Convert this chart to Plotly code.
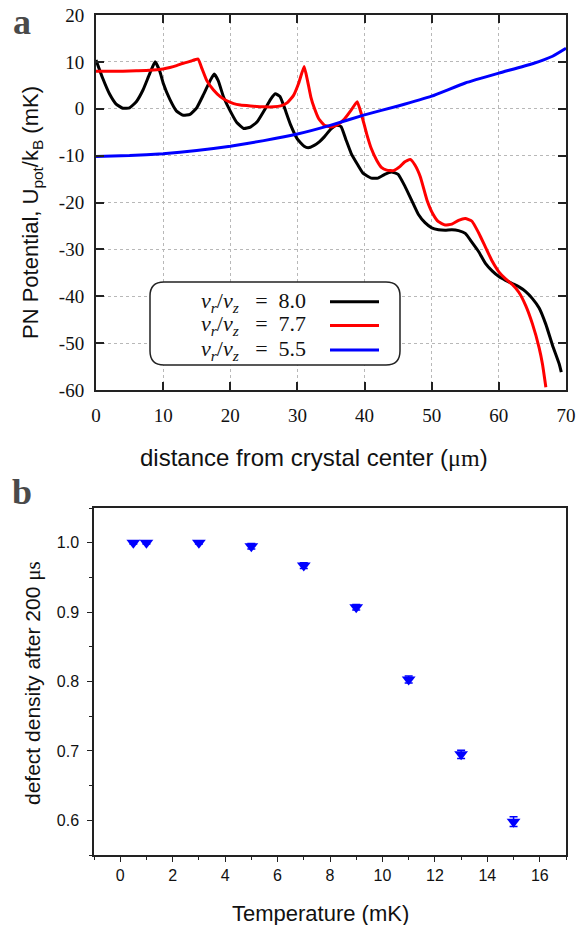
import plotly.graph_objects as go

W, H = 587, 925

# ---------------- Panel a data ----------------
x_80 = [0, 1, 2, 3, 4, 5, 6, 7, 8, 8.8, 9.5, 10, 11, 12, 13, 14, 15, 16, 17, 17.6, 18.2, 19, 20, 21, 22, 23, 24, 25, 26,
        26.7, 27.4, 28, 29, 30, 31, 31.6, 32.5, 33.3, 34, 35, 35.8, 36.5, 37.2, 38, 39, 39.8, 41, 42, 43, 44, 45, 46, 47,
        48, 49, 50, 51, 52, 53, 54, 55, 56, 57, 58, 59, 60, 61, 62, 63, 64, 65, 66, 67, 68, 69, 69.3]
y_80 = [10.4, 6.5, 3.2, 1.0, 0.1, 0.2, 1.5, 4.0, 7.5, 10.0, 8.0, 5.5, 2.0, -0.5, -1.4, -1.2, 0.2, 3.0, 6.0, 7.4, 6.0, 2.5,
        -0.5, -3.0, -4.2, -3.9, -2.8, -0.5, 2.0, 3.2, 2.6, 0.5, -3.5, -6.5, -8.0, -8.3, -7.8, -7.0, -6.0, -4.3, -3.5,
        -3.8, -6.5, -9.5, -12.0, -13.8, -14.8, -14.8, -14.0, -13.5, -14.0, -16.5, -19.5, -22.5, -24.3, -25.4, -25.8,
        -25.9, -25.8, -26.0, -26.6, -28.5, -30.5, -33.0, -34.6, -35.8, -36.6, -37.3, -38.0, -39.0, -40.5, -42.5, -46.0,
        -50.5, -54.5, -56.2]

x_77 = [0, 2, 4, 6, 8, 10, 11, 12, 13, 14, 15.2, 15.8, 16.5, 17.5, 18.5, 19.5, 20.5, 21.5, 23, 25, 26.5, 27.5, 28.5, 29.4,
        30.2, 31.0, 31.5, 32.0, 32.5, 33.2, 34, 35, 36, 37, 38, 38.9, 39.5, 40.3, 41, 41.8, 42.5, 43.3, 44.3, 45.3, 46,
        46.8, 47.5, 48.3, 49.3, 50.2, 51, 52, 53, 54, 55, 56, 57, 58, 59, 60, 61, 62, 63, 64, 65, 66, 66.5, 67]
y_77 = [8.0, 8.0, 8.0, 8.1, 8.2, 8.5, 8.8, 9.2, 9.7, 10.1, 10.6, 8.5, 6.0, 4.0, 2.6, 1.7, 1.1, 0.8, 0.6, 0.4, 0.4, 0.6,
        1.3, 2.8, 5.5, 9.0, 6.0, 2.5, 0.2, -2.2, -3.5, -3.9, -3.4, -2.2, -0.3, 1.5, -1.0, -5.3, -8.5, -11.0, -12.5,
        -13.1, -13.2, -12.3, -11.3, -10.8, -12.0, -14.5, -19.5, -22.5, -24.1, -24.8, -24.6, -23.8, -23.4, -24.0,
        -26.5, -29.5, -32.5, -34.8, -36.3, -37.5, -39.2, -42.0, -45.9, -51.0, -54.5, -59.4]

x_55 = [0, 5, 10, 15, 20, 25, 30, 35, 40, 45, 50, 55, 60, 65, 68, 70]
y_55 = [-10.2, -10.0, -9.6, -8.9, -8.0, -6.8, -5.4, -3.5, -1.3, 0.6, 2.7, 5.5, 7.6, 9.6, 11.2, 12.9]

series_a = [("8.0", x_80, y_80, "#000000"),
            ("7.7", x_77, y_77, "#ff0000"),
            ("5.5", x_55, y_55, "#0000ff")]

a_xticks = [0, 10, 20, 30, 40, 50, 60, 70]
a_yticks = [-60, -50, -40, -30, -20, -10, 0, 10, 20]
a_yticklabels = ["-60", "-50", "-40", "-30", "-20", "-10", "0", "10", "20"]

# ---------------- Panel b data ----------------
temp_mK = [0.5, 1, 3, 5, 7, 9, 11, 13, 15]
defect_density = [1.0, 1.0, 1.0, 0.995, 0.967, 0.907, 0.803, 0.695, 0.598]
defect_err = [0.002, 0.002, 0.002, 0.004, 0.004, 0.004, 0.005, 0.006, 0.007]

b_xticks = [0, 2, 4, 6, 8, 10, 12, 14, 16]
b_yticks = [0.6, 0.7, 0.8, 0.9, 1.0]
b_yticklabels = ["0.6", "0.7", "0.8", "0.9", "1.0"]

# ---------------- geometry (pixels -> paper) ----------------
def px(x):
    return x / W

def py(y):
    return 1 - y / H

A_L, A_R, A_T, A_B = 96, 566, 15, 390
B_L, B_R, B_T, B_B = 94, 566, 508, 855

fig = go.Figure()

for name, xs, ys, col in series_a:
    fig.add_trace(go.Scatter(x=xs, y=ys, mode="lines", name=name,
                             line=dict(color=col, width=3, shape="spline", smoothing=0.4),
                             xaxis="x", yaxis="y", showlegend=False))

fig.add_trace(go.Scatter(x=temp_mK, y=defect_density, mode="markers",
                         marker=dict(symbol="triangle-down", size=12, color="#0000ff"),
                         error_y=dict(type="data", array=defect_err, color="#0000ff",
                                      thickness=1.5, width=4),
                         xaxis="x2", yaxis="y2", showlegend=False))

serif = "Liberation Serif, Times New Roman, serif"
sans = "Liberation Sans, Arial, sans-serif"

fig.update_layout(
    width=W, height=H, margin=dict(l=0, r=0, t=0, b=0, autoexpand=False),
    paper_bgcolor="white", plot_bgcolor="white", showlegend=False,
    xaxis=dict(domain=[px(A_L), px(A_R)], anchor="y", range=[0, 70], automargin=False,
               tickvals=a_xticks, ticks="inside", ticklen=8, tickwidth=1.5,
               tickcolor="#222", showline=True, linecolor="#222", linewidth=2,
               mirror="ticks", showgrid=True, gridcolor="#b8b8b8", griddash="dot",
               gridwidth=1, zeroline=False, ticklabelstandoff=7,
               tickfont=dict(family=serif, size=19, color="#111")),
    yaxis=dict(domain=[py(A_B), py(A_T)], anchor="x", range=[-60, 20], automargin=False,
               tickvals=a_yticks, ticktext=a_yticklabels, ticks="inside", ticklen=8,
               tickwidth=1.5, tickcolor="#222", showline=True, linecolor="#222",
               linewidth=2, mirror="ticks", showgrid=True, gridcolor="#b8b8b8",
               griddash="dot", gridwidth=1, zeroline=False, ticklabelstandoff=6,
               tickfont=dict(family=serif, size=19, color="#111")),
    xaxis2=dict(domain=[px(B_L), px(B_R)], anchor="y2", range=[-1, 17], automargin=False,
                tickvals=b_xticks, ticks="outside", ticklen=5, tickwidth=1.2,
                tickcolor="#222", showline=True, linecolor="#222", linewidth=1.5,
                mirror=True, showgrid=False, zeroline=False,
                minor=dict(ticks="outside", dtick=1, tick0=0, ticklen=3, tickcolor="#222"),
                tickfont=dict(family=sans, size=16, color="#111")),
    yaxis2=dict(domain=[py(B_B), py(B_T)], anchor="x2", range=[0.55, 1.05], automargin=False,
                tickvals=b_yticks, ticktext=b_yticklabels, ticks="outside", ticklen=5,
                tickwidth=1.2, tickcolor="#222", showline=True, linecolor="#222",
                linewidth=1.5, mirror=True, showgrid=False, zeroline=False,
                ticklabelstandoff=5,
                minor=dict(ticks="outside", dtick=0.05, tick0=0.55, ticklen=3, tickcolor="#222"),
                tickfont=dict(family=sans, size=16, color="#111")),
)

annotations = [
    dict(text="<b>a</b>", x=px(22), y=py(22), font=dict(family=serif, size=36, color="#4a4a4a")),
    dict(text="<b>b</b>", x=px(22), y=py(492), font=dict(family=serif, size=36, color="#4a4a4a")),
    dict(text="PN Potential, U<sub>pot</sub>/k<sub>B</sub> (mK)", x=px(32), y=py(213),
         textangle=-90, font=dict(family=sans, size=22, color="#111")),
    dict(text="distance from crystal center (<span style='font-family:Liberation Serif'>μm</span>)",
         x=px(314), y=py(457), font=dict(family=sans, size=24, color="#111")),
    dict(text="defect density after 200 <span style='font-family:Liberation Serif'>μs</span>",
         x=px(33), y=py(683), textangle=-90,
         font=dict(family=sans, size=21, color="#111")),
    dict(text="Temperature (mK)", x=px(320), y=py(913),
         font=dict(family=sans, size=22, color="#111")),
]

# custom legend inside panel a (text left, line sample right)
leg_rows = [301.7, 325.5, 350]
for (name, xs, ys, col), ry in zip(series_a, leg_rows):
    annotations.append(dict(
        text="<i>ν<sub>r</sub></i>/<i>ν<sub>z</sub></i>&nbsp;&nbsp;&nbsp;=&nbsp;&nbsp;" + name,
        x=px(308), y=py(ry), xanchor="right",
        font=dict(family=serif, size=22, color="#111")))

for a in annotations:
    a.setdefault("xref", "paper")
    a.setdefault("yref", "paper")
    a.setdefault("showarrow", False)
    a.setdefault("xanchor", "center")
    a.setdefault("yanchor", "middle")
fig.update_layout(annotations=annotations)

# rounded legend box (pixel coordinates converted to paper)
bx0, bx1, by0, by1, r = 150, 400, 282, 365, 14
def P(x, y):
    return f"{px(x):.5f},{py(y):.5f}"
path = (f"M {P(bx0 + r, by0)} L {P(bx1 - r, by0)} Q {P(bx1, by0)} {P(bx1, by0 + r)} "
        f"L {P(bx1, by1 - r)} Q {P(bx1, by1)} {P(bx1 - r, by1)} "
        f"L {P(bx0 + r, by1)} Q {P(bx0, by1)} {P(bx0, by1 - r)} "
        f"L {P(bx0, by0 + r)} Q {P(bx0, by0)} {P(bx0 + r, by0)} Z")
fig.add_shape(type="path", xref="paper", yref="paper", path=path,
              line=dict(color="#222", width=1.5), fillcolor="white", layer="above")
for (name, xs, ys, col), ry in zip(series_a, leg_rows):
    fig.add_shape(type="line", xref="paper", yref="paper",
                  x0=px(330), x1=px(379), y0=py(ry), y1=py(ry),
                  line=dict(color=col, width=3), layer="above")

fig.write_html("out.html", config={"displayModeBar": False},
               post_script="document.body.style.margin='0';")
